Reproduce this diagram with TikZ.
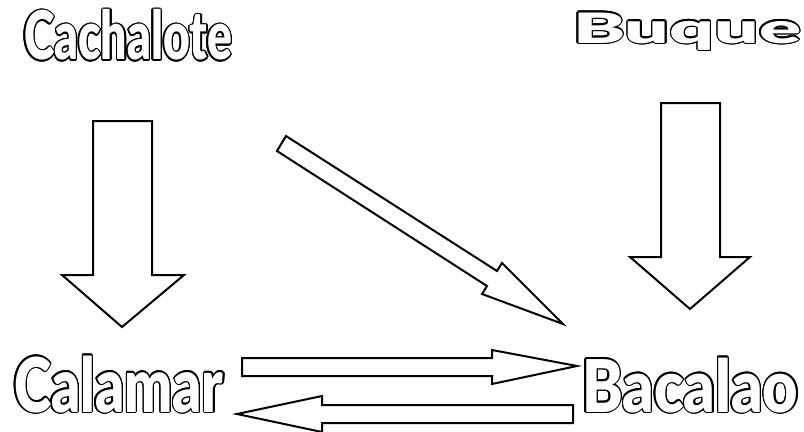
\documentclass[tikz,border=0pt]{standalone}
\usepackage{fontspec}
\usepackage{contour}
\contourlength{1.0pt}
\newfontfamily\fCach{Lato Black}[FakeStretch=0.69]
\newfontfamily\fCal{Lato Black}[FakeStretch=0.75]
\newfontfamily\fBac{Lato Black}[FakeStretch=0.84]
\newfontfamily\fBuq{Lato Black}[FakeStretch=1.87]
\tikzset{
  blockarrow/.style={draw=black, fill=white, line width=1.5pt, line join=miter},
  word/.style={inner sep=0pt, outer sep=0pt, anchor=base west}
}
\begin{document}
\begin{tikzpicture}[x=0.75pt,y=-0.75pt]
\fill[white] (0,0) rectangle (804,432);
\useasboundingbox (0,0) rectangle (804,432);
% words
\node[word] (cachalote) at (24,60) {\fCach\fontsize{50.3}{50}\selectfont{\color{white}\contour{black}{Cachalote}}};
\node[word] (buque) at (573,43) {\fBuq\fontsize{31.4}{32}\selectfont{\color{white}\contour{black}{Buque}}};
\node[word] (calamar) at (14,412) {\fCal\fontsize{56.6}{57}\selectfont{\color{white}\contour{black}{Calamar}}};
\node[word] (bacalao) at (582,412) {\fBac\fontsize{54.5}{55}\selectfont{\color{white}\contour{black}{Bacalao}}};
% Cachalote -> Calamar
\draw[blockarrow] (93,121) -- (152,121) -- (152,275) -- (184,275) -- (122,327) -- (62,275) -- (93,275) -- cycle;
% Buque -> Bacalao
\draw[blockarrow] (661,103) -- (720,103) -- (720,257) -- (750,257) -- (690,309) -- (630,257) -- (661,257) -- cycle;
% Cachalote -> Bacalao (diagonal)
\draw[blockarrow] (286,136) -- (497,271) -- (502,263) -- (563,324) -- (482,294) -- (487,286) -- (277,151) -- cycle;
% Calamar -> Bacalao
\draw[blockarrow] (242,358) -- (492,358) -- (492,350) -- (577,366) -- (492,384) -- (492,376) -- (242,376) -- cycle;
% Bacalao -> Calamar
\draw[blockarrow] (573,405) -- (322,405) -- (322,396) -- (237,414) -- (322,432) -- (322,423) -- (573,423) -- cycle;
\end{tikzpicture}
\end{document}
